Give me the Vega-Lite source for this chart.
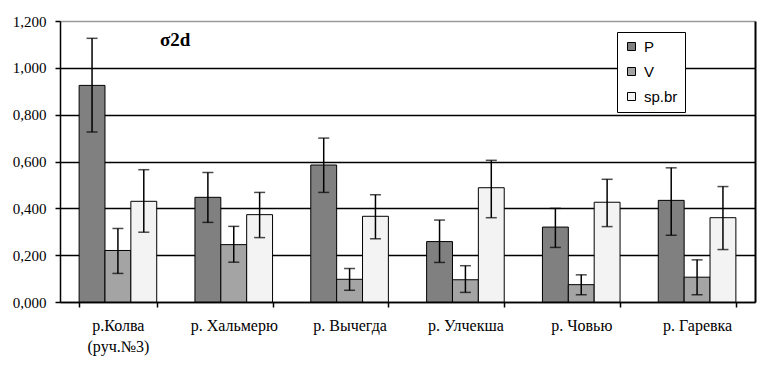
{
  "$schema": "https://vega.github.io/schema/vega-lite/v6.json",
  "autosize": {"type": "none"},
  "width": 695,
  "height": 281,
  "padding": {"left": 60, "top": 21, "right": 10, "bottom": 70},
  "background": "white",
  "title": {"text": "σ2d", "anchor": "start", "frame": "group", "orient": "top", "dx": 100, "dy": 40, "font": "Liberation Serif", "fontSize": 19, "fontWeight": "bold", "color": "black", "offset": 4},
  "data": {"values": [
    {"river": "р.Колва|(руч.№3)", "series": "P", "value": 0.925, "lo": 0.726, "hi": 1.126},
    {"river": "р.Колва|(руч.№3)", "series": "V", "value": 0.22, "lo": 0.122, "hi": 0.314},
    {"river": "р.Колва|(руч.№3)", "series": "sp.br", "value": 0.43, "lo": 0.298, "hi": 0.565},
    {"river": "р. Хальмерю", "series": "P", "value": 0.447, "lo": 0.34, "hi": 0.553},
    {"river": "р. Хальмерю", "series": "V", "value": 0.245, "lo": 0.17, "hi": 0.323},
    {"river": "р. Хальмерю", "series": "sp.br", "value": 0.373, "lo": 0.275, "hi": 0.468},
    {"river": "р. Вычегда", "series": "P", "value": 0.585, "lo": 0.468, "hi": 0.70},
    {"river": "р. Вычегда", "series": "V", "value": 0.097, "lo": 0.05, "hi": 0.143},
    {"river": "р. Вычегда", "series": "sp.br", "value": 0.366, "lo": 0.27, "hi": 0.458},
    {"river": "р. Улчекша", "series": "P", "value": 0.258, "lo": 0.169, "hi": 0.35},
    {"river": "р. Улчекша", "series": "V", "value": 0.095, "lo": 0.041, "hi": 0.155},
    {"river": "р. Улчекша", "series": "sp.br", "value": 0.488, "lo": 0.36, "hi": 0.605},
    {"river": "р. Човью", "series": "P", "value": 0.32, "lo": 0.233, "hi": 0.40},
    {"river": "р. Човью", "series": "V", "value": 0.074, "lo": 0.031, "hi": 0.116},
    {"river": "р. Човью", "series": "sp.br", "value": 0.426, "lo": 0.322, "hi": 0.524},
    {"river": "р. Гаревка", "series": "P", "value": 0.434, "lo": 0.285, "hi": 0.573},
    {"river": "р. Гаревка", "series": "V", "value": 0.106, "lo": 0.031, "hi": 0.18},
    {"river": "р. Гаревка", "series": "sp.br", "value": 0.36, "lo": 0.224, "hi": 0.493}
  ]},
  "encoding": {
    "x": {
      "field": "river", "type": "nominal", "sort": null,
      "scale": {"paddingInner": 0.33, "paddingOuter": 0.165},
      "axis": {
        "title": null, "labelAngle": 0, "tickBand": "extent", "domainColor": "black", "domainWidth": 1.5,
        "tickColor": "black", "tickSize": 5, "tickWidth": 1.5, "labelPadding": 10,
        "labelFont": "Liberation Serif", "labelFontSize": 16, "labelColor": "black", "labelLineHeight": 21,
        "labelExpr": "datum.value ? split(datum.value, '|') : ''", "labelBaseline": "top"
      }
    },
    "xOffset": {"field": "series", "type": "nominal", "sort": ["P", "V", "sp.br"], "scale": {"paddingInner": 0, "paddingOuter": 0}}
  },
  "layer": [
    {
      "mark": {"type": "bar", "stroke": "black", "strokeWidth": 1},
      "encoding": {
        "y": {
          "field": "value", "type": "quantitative",
          "scale": {"domain": [0, 1.2], "nice": false},
          "axis": {
            "title": null, "values": [0, 0.2, 0.4, 0.6, 0.8, 1.0, 1.2],
            "labelExpr": "replace(format(datum.value, '.3f'), '.', ',')",
            "labelFont": "Liberation Serif", "labelFontSize": 15, "labelColor": "black", "labelPadding": 9,
            "tickColor": "black", "tickSize": 5, "tickWidth": 1.5,
            "domainColor": "black", "domainWidth": 1.5,
            "grid": true, "gridWidth": 1.5,
            "gridColor": {"condition": {"test": "datum.value >= 1.19", "value": "#9a9a9a"}, "value": "black"}
          }
        },
        "fill": {
          "field": "series", "type": "nominal", "sort": ["P", "V", "sp.br"],
          "scale": {"domain": ["P", "V", "sp.br"], "range": ["#808080", "#a4a4a4", "#f3f3f3"]},
          "legend": {
            "title": null, "orient": "none", "legendX": 557, "legendY": 11,
            "fillColor": "white", "strokeColor": "black", "padding": 7, "rowPadding": 9,
            "symbolType": "square", "symbolSize": 64, "symbolStrokeColor": "black", "symbolStrokeWidth": 1,
            "labelFont": "Liberation Sans", "labelFontSize": 15, "labelColor": "black", "labelOffset": 5
          }
        }
      }
    },
    {
      "mark": {"type": "rule", "color": "black", "strokeWidth": 1.5},
      "encoding": {
        "y": {
          "field": "lo", "type": "quantitative",
          "axis": {"orient": "right", "title": null, "labels": false, "ticks": false, "grid": false, "domainColor": "black", "domainWidth": 2}
        },
        "y2": {"field": "hi"}
      }
    },
    {
      "mark": {"type": "tick", "color": "black", "thickness": 1.5, "size": 11, "orient": "horizontal"},
      "encoding": {"y": {"field": "lo", "type": "quantitative", "axis": null}}
    },
    {
      "mark": {"type": "tick", "color": "black", "thickness": 1.5, "size": 11, "orient": "horizontal"},
      "encoding": {"y": {"field": "hi", "type": "quantitative", "axis": null}}
    }
  ],
  "resolve": {"axis": {"y": "independent"}},
  "config": {
    "view": {"stroke": null},
    "axis": {"gridCap": "butt"}
  }
}
